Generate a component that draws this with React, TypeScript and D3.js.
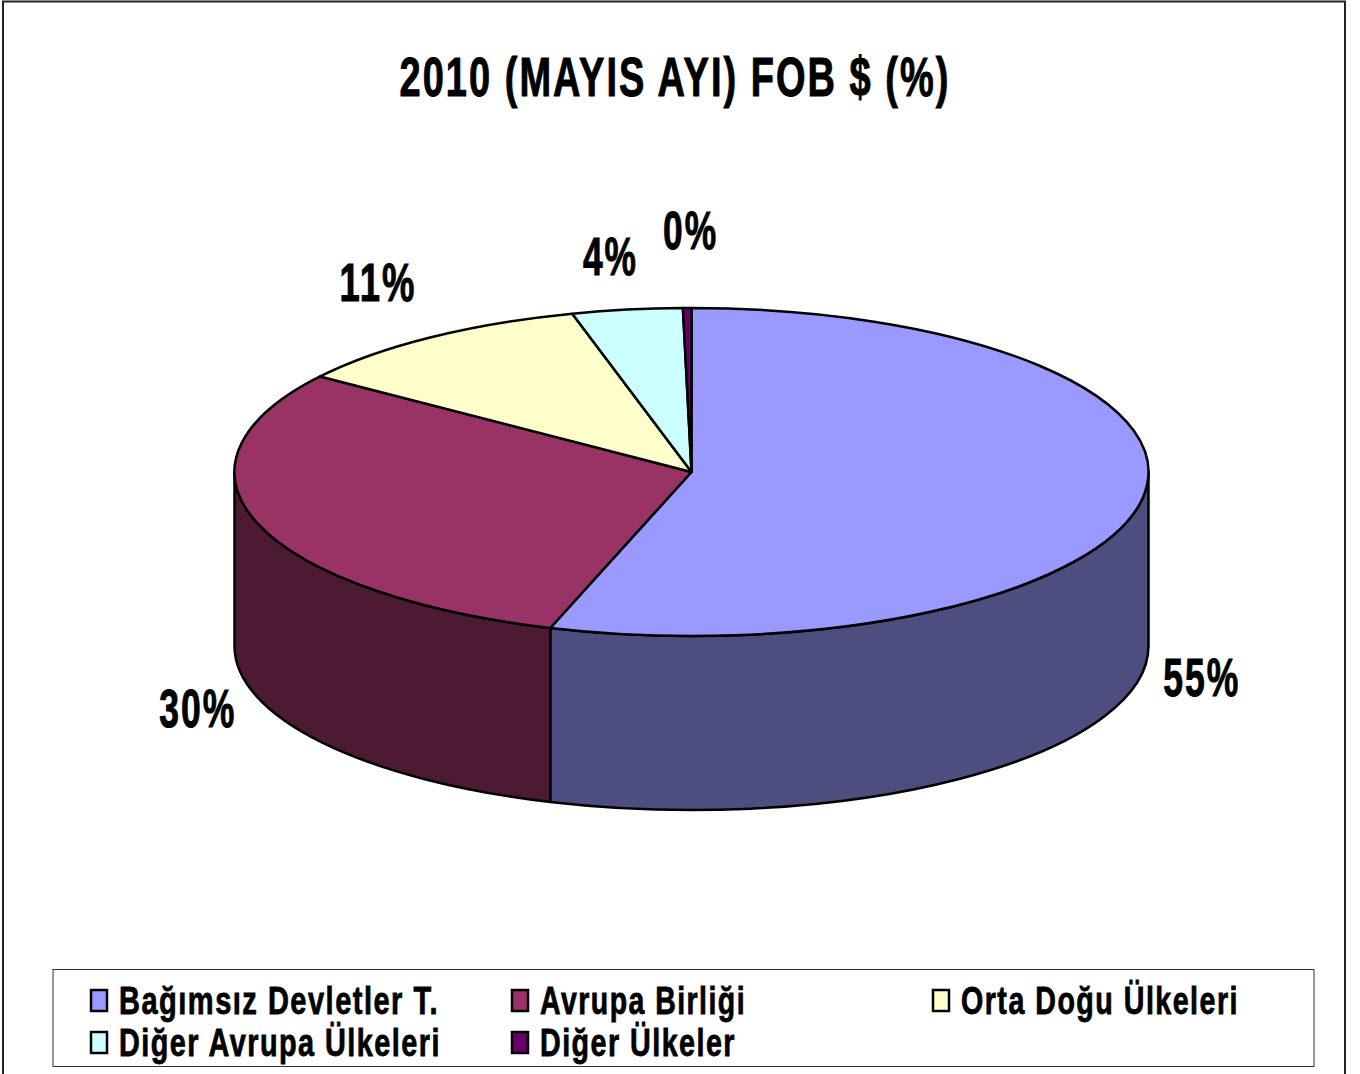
import React from 'react';
import * as d3 from 'd3';

const titleText = '2010 (MAYIS AYI) FOB $ (%)';
const categories = ['Bağımsız Devletler T.', 'Avrupa Birliği', 'Orta Doğu Ülkeleri', 'Diğer Avrupa Ülkeleri', 'Diğer Ülkeler'];
const values = [55.0, 29.9, 10.9, 3.9, 0.3];
const colors = ['#9999ff', '#993366', '#ffffcc', '#ccffff', '#660066'];
const darkColors = ['#4d4d80', '#4d1a33', '#80806a', '#6a8080', '#330033'];

const width = 1360;
const height = 1074;
const cx = 691.5;
const cy = 472;
const rx = 457;
const ry = 164;
const depth = 174;
const squash = ry / rx;

// hand placed nudges for the percent labels, same order as the values
const labelNudge = [[-2, 2], [-1, 4], [-18, -37], [-8, -32], [4, -56]];
const labelWidths = [77, 77, 77, 55, 55];
// legend text widths
const legendWidths = [320, 206, 278, 322, 196];

const pieGen = d3.pie<number>().sort(null).value(d => d);
const slices = pieGen(values);
const arcGen = d3.arc<any>().innerRadius(0).outerRadius(rx);

// side wall between two angles (d3 angles, 0 = top, clockwise)
function wallPath(a0: number, a1: number) {
  const p = d3.path();
  const s0 = a0 - Math.PI / 2;
  const s1 = a1 - Math.PI / 2;
  p.moveTo(rx * Math.cos(s0), rx * Math.sin(s0));
  p.arc(0, 0, rx, s0, s1);
  p.lineTo(rx * Math.cos(s1), rx * Math.sin(s1) + depth / squash);
  p.arc(0, depth / squash, rx, s1, s0, true);
  p.closePath();
  return p.toString();
}

export default function App() {
  const legendX = d3.scalePoint<number>().domain([0, 1, 2]).range([91, 933]);
  const legendY = d3.scalePoint<number>().domain([0, 1]).range([1000, 1042]);
  const lineStyle: any = { vectorEffect: 'non-scaling-stroke' };

  return (
    <svg width={width} height={height} style={{ position: 'absolute', left: 0, top: 0, display: 'block' }}
      fontFamily="'Liberation Sans', Arial, sans-serif" fontWeight="bold">
      <rect x={0} y={0} width={width} height={height} fill="#fff" />
      <rect x={3} y={1.5} width={1342} height={1090} fill="#fff" stroke="#222" strokeWidth={2} />
      <text x={675} y={96} fontSize={56} textAnchor="middle" textLength={551} lengthAdjust="spacingAndGlyphs"
        letterSpacing={3} stroke="#000" strokeWidth={1}>{titleText}</text>

      <g transform={`translate(${cx},${cy}) scale(1,${squash})`} stroke="#000" strokeWidth={2.5} strokeLinejoin="round">
        {slices.map((s, i) => {
          const a0 = Math.max(s.startAngle, Math.PI / 2);
          const a1 = Math.min(s.endAngle, Math.PI * 1.5);
          if (a1 <= a0) return null;
          return <path key={i} d={wallPath(a0, a1)} fill={darkColors[i]} style={lineStyle} />;
        })}
        {slices.map((s, i) => (
          <path key={i} d={arcGen(s) as string} fill={colors[i]} style={lineStyle} />
        ))}
      </g>

      {slices.map((s, i) => {
        const mid = (s.startAngle + s.endAngle) / 2;
        const onWall = Math.cos(mid) < 0;
        const x = cx + Math.sin(mid) * rx * 1.135 + labelNudge[i][0];
        const y = cy - Math.cos(mid) * ry * 1.135 + (onWall ? depth : 0) + labelNudge[i][1] + 19;
        return (
          <text key={i} x={x} y={y} fontSize={54} textAnchor="middle" textLength={labelWidths[i]} lengthAdjust="spacingAndGlyphs"
            letterSpacing={3} stroke="#000" strokeWidth={1}>
            {`${d3.format('.0f')(values[i])}%`}
          </text>
        );
      })}

      <rect x={53} y={969.5} width={1261} height={97} fill="#fff" stroke="#333" strokeWidth={1} />
      {categories.map((c, i) => {
        const col = i % 3;
        const row = Math.floor(i / 3);
        const x = legendX(col) as number;
        const y = legendY(row) as number;
        return (
          <g key={c}>
            <rect x={x} y={y - 10} width={16} height={21} fill={colors[i]} stroke="#000" strokeWidth={2.5} />
            <text x={x + 28} y={y + 14} fontSize={39} textLength={legendWidths[i]} lengthAdjust="spacingAndGlyphs"
              letterSpacing={2} stroke="#000" strokeWidth={0.8}>{c}</text>
          </g>
        );
      })}
    </svg>
  );
}
